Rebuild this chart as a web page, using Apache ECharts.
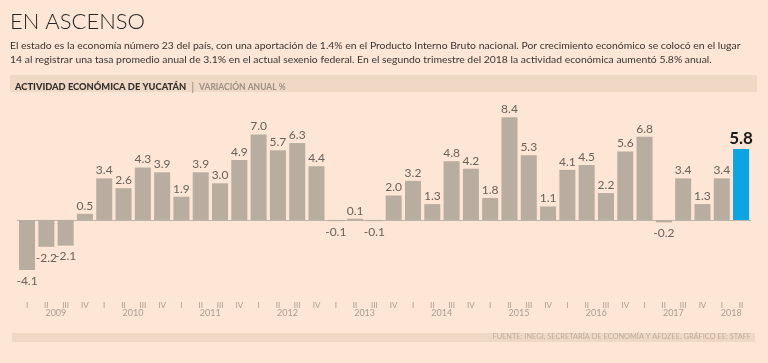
<!DOCTYPE html>
<html>
<head>
<meta charset="utf-8">
<script src="https://cdn.jsdelivr.net/npm/echarts@6/dist/echarts.min.js"></script>
<style>
html,body{margin:0;padding:0;background:#fde6d5;}
#chart{width:768px;height:363px;}
</style>
</head>
<body>
<div id="chart"></div>
<script>
const quarterLabels = [
  'I','II','III','IV', 'I','II','III','IV', 'I','II','III','IV',
  'I','II','III','IV', 'I','II','III','IV', 'I','II','III','IV',
  'I','II','III','IV', 'I','II','III','IV', 'I','II','III','IV',
  'I','II'
];
const yearLabels = [
  '2009','2009','2009','2009', '2010','2010','2010','2010', '2011','2011','2011','2011',
  '2012','2012','2012','2012', '2013','2013','2013','2013', '2014','2014','2014','2014',
  '2015','2015','2015','2015', '2016','2016','2016','2016', '2017','2017','2017','2017',
  '2018','2018'
];
const values = [
  -4.1, -2.2, -2.1, 0.5,
  3.4, 2.6, 4.3, 3.9,
  1.9, 3.9, 3.0, 4.9,
  7.0, 5.7, 6.3, 4.4,
  -0.1, 0.1, -0.1, 2.0,
  3.2, 1.3, 4.8, 4.2,
  1.8, 8.4, 5.3, 1.1,
  4.1, 4.5, 2.2, 5.6,
  6.8, -0.2, 3.4, 1.3,
  3.4, 5.8
];
const titleText = 'EN ASCENSO';
const subtitleLines = [
  'El estado es la economía número 23 del país, con una aportación de 1.4% en el Producto Interno Bruto nacional. Por crecimiento económico se colocó en el lugar',
  '14 al registrar una tasa promedio anual de 3.1% en el actual sexenio federal. En el segundo trimestre del 2018 la actividad económica aumentó 5.8% anual.'
];
const headerBold = 'ACTIVIDAD ECONÓMICA DE YUCATÁN';
const headerLight = 'VARIACIÓN ANUAL %';
const sourceText = 'FUENTE: INEGI, SECRETARÍA DE ECONOMÍA Y AFDZEE. GRÁFICO EE: STAFF';

const BAR = '#b8ad9f';
const HIGHLIGHT = '#0ba5e3';
const FONT = 'Lato';

const lastIdx = values.length - 1;
const seriesData = values.map((v, i) => {
  const item = { value: v };
  const isLast = i === lastIdx;
  item.itemStyle = { color: isLast ? HIGHLIGHT : BAR };
  item.label = {
    position: v < 0 ? 'bottom' : 'top',
    distance: v < 0 ? 5 : 2
  };
  if (isLast) {
    item.label.color = '#1a1a1a';
    item.label.fontWeight = 'bold';
    item.label.fontSize = 17;
  }
  return item;
});

const chart = echarts.init(document.getElementById('chart'), null, { renderer: 'canvas' });
chart.setOption({
  backgroundColor: '#fde6d5',
  animation: false,
  graphic: [
    { type: 'rect', left: 10, top: 75, shape: { width: 747, height: 17 }, style: { fill: '#efd8c6' }, z: 0 },
    { type: 'rect', left: 12, top: 333, shape: { width: 743, height: 9 }, style: { fill: '#efd8c6' }, z: 0 }
  ],
  title: [
    { text: titleText, left: 10, top: 11, padding: 0,
      textStyle: { fontFamily: FONT, fontSize: 22, fontWeight: 300, color: '#2a2522' } },
    { text: subtitleLines[0], left: 10, top: 41, padding: 0,
      textStyle: { fontFamily: FONT, fontSize: 10.4, fontWeight: 'normal', color: '#3a3430' } },
    { text: subtitleLines[1], left: 10, top: 55, padding: 0,
      textStyle: { fontFamily: FONT, fontSize: 10.4, fontWeight: 'normal', color: '#3a3430' } },
    { text: '{b|' + headerBold + '} {s||} {l|' + headerLight + '}', left: 15, top: 78, padding: 0,
      textStyle: { rich: {
        b: { fontFamily: FONT, fontSize: 9.3, fontWeight: 900, color: '#352e2a' },
        s: { fontFamily: FONT, fontSize: 11, color: '#a89c90' },
        l: { fontFamily: FONT, fontSize: 8.5, color: '#9b8f84' }
      } } },
    { text: sourceText, right: 17, top: 333, padding: 0,
      textStyle: { fontFamily: FONT, fontSize: 7.4, fontWeight: 'normal', color: '#bfae9f' } }
  ],
  grid: { left: 17.4, right: 17.3, top: 110, height: 171, containLabel: false },
  xAxis: [
    { type: 'category', data: quarterLabels, position: 'bottom',
      axisLine: { show: true, onZero: true, lineStyle: { color: '#bdb2a6', width: 1 } },
      axisTick: { show: false }, axisLabel: { show: false }, splitLine: { show: false } },
    { type: 'category', data: quarterLabels, position: 'bottom',
      axisLine: { show: false, onZero: false }, axisTick: { show: false },
      axisLabel: { show: true, interval: 0, margin: 20, fontFamily: FONT, fontSize: 8, color: '#a99d92' } },
    { type: 'category', data: yearLabels, position: 'bottom',
      axisLine: { show: false, onZero: false }, axisTick: { show: false },
      axisLabel: { show: true, margin: 28, fontFamily: FONT, fontSize: 9, color: '#a99d92',
        interval: (i) => (i % 4 === 1 && i < 36) || i === 36,
        padding: [0, 0, 0, 19] } }
  ],
  yAxis: { type: 'value', min: -5, max: 9, show: false, splitLine: { show: false } },
  series: [{
    type: 'bar',
    xAxisIndex: 0,
    data: seriesData,
    barCategoryGap: '17%',
    label: { show: true, fontFamily: FONT, fontSize: 12, color: '#6a615a',
      formatter: (p) => p.value.toFixed(1) }
  }]
});
</script>
</body>
</html>
